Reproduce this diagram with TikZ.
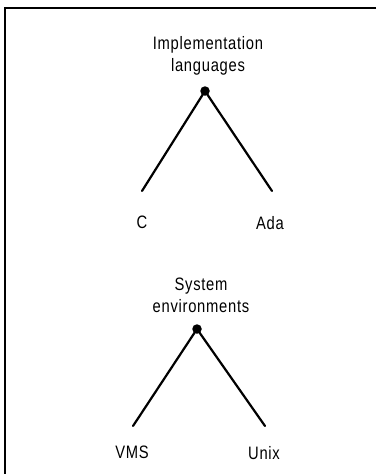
\documentclass[tikz,border=0pt]{standalone}
\usepackage{fontspec}
\setmainfont{Liberation Sans}[FakeStretch=0.82,LetterSpace=4]
\usepackage{tikz}
\usetikzlibrary{positioning}
\tikzstyle{frame} = [line width=2pt]
\tikzstyle{branch} = [line width=2.2pt, line cap=round]
\tikzstyle{fork} = [circle, fill=black, inner sep=0pt, minimum size=9.5pt]
\tikzstyle{heading} = [align=center, inner sep=0pt, font=\fontsize{18}{22}\selectfont]
\tikzstyle{leaf} = [inner sep=0pt, font=\fontsize{18}{22}\selectfont]

\begin{document}
\begin{tikzpicture}[x=1pt, y=1pt]
\useasboundingbox (0,0) rectangle (376,-474);
% Frame, top and left edges only
\draw[frame] (376,-8) -- (5,-8) -- (5,-474);

% Implementation languages
\node (langs) [fork] at (205,-91) {};
\node (langsTitle) [heading, above=11pt of langs, xshift=3pt] {Implementation\\languages};
\coordinate (cEnd) at (142,-191);
\coordinate (adaEnd) at (272,-191);
\node (c) [leaf, below=25pt of cEnd] {C};
\node (ada) [leaf, below=25pt of adaEnd, xshift=-2pt] {Ada};
\draw[branch] (langs.center) -- (cEnd);
\draw[branch] (langs.center) -- (adaEnd);

% System environments
\node (envs) [fork] at (197,-329) {};
\node (envsTitle) [heading, above=11pt of envs, xshift=4pt] {System\\environments};
\coordinate (vmsEnd) at (133,-426);
\coordinate (unixEnd) at (265,-426);
\node (vms) [leaf, below=20pt of vmsEnd, xshift=-1pt] {VMS};
\node (unix) [leaf, below=20pt of unixEnd, xshift=-1pt] {Unix};
\draw[branch] (envs.center) -- (vmsEnd);
\draw[branch] (envs.center) -- (unixEnd);
\end{tikzpicture}
\end{document}
